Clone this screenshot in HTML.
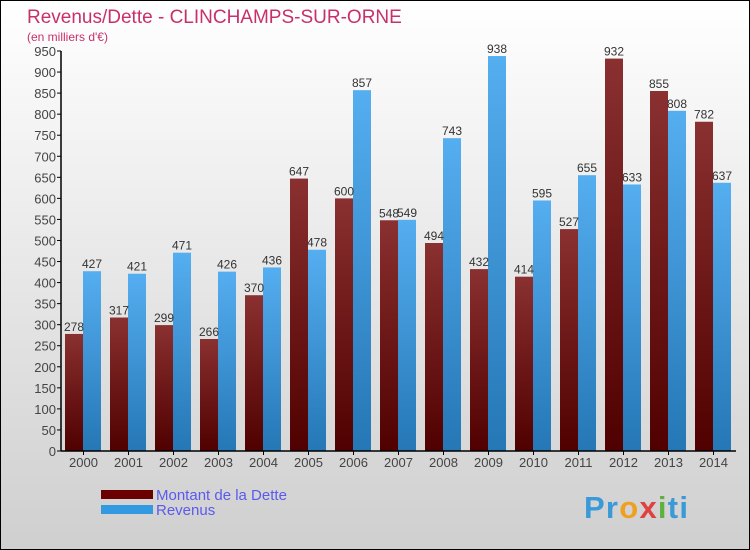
<!DOCTYPE html>
<html><head><meta charset="utf-8"><style>
body{margin:0;}
#c{width:750px;height:550px;position:relative;overflow:hidden;border:1px solid #000;box-sizing:border-box;background:linear-gradient(#ffffff,#cfcfcf);font-family:"Liberation Sans",sans-serif;}
</style></head><body>
<div id="c">
<svg id="s" width="750" height="550" style="position:absolute;left:0;top:0" font-family="Liberation Sans, sans-serif">
<defs>
<linearGradient id="gd" x1="0" y1="0" x2="0" y2="1"><stop offset="0" stop-color="#8a3030"/><stop offset="1" stop-color="#500000"/></linearGradient>
<linearGradient id="gr" x1="0" y1="0" x2="0" y2="1"><stop offset="0" stop-color="#55aef0"/><stop offset="1" stop-color="#2577b5"/></linearGradient>
</defs>
<text x="26" y="22" font-size="19" fill="#c8306a">Revenus/Dette - CLINCHAMPS-SUR-ORNE</text>
<text x="26" y="40" font-size="12" fill="#c8306a">(en milliers d'€)</text>
<g id="plot"></g>
<rect x="100" y="489" width="52" height="9" fill="#6b0000"/>
<rect x="100" y="504" width="52" height="9" fill="#3399e0"/>
<text x="155" y="499" font-size="15" fill="#5a5af0">Montant de la Dette</text>
<text x="155" y="514" font-size="15" fill="#5a5af0">Revenus</text>
<text x="583" y="517" font-size="31" font-weight="bold" fill="#3a9ad8" textLength="104">Pr<tspan fill="#f0a020">o</tspan><tspan fill="#e04040">x</tspan><tspan fill="#60b040">i</tspan>ti</text>
</svg>
</div>
<script>
const years=["2000","2001","2002","2003","2004","2005","2006","2007","2008","2009","2010","2011","2012","2013","2014"];
const dette=[278,317,299,266,370,647,600,548,494,432,414,527,932,855,782];
const revenus=[427,421,471,426,436,478,857,549,743,938,595,655,633,808,637];
const yTicks=[0,50,100,150,200,250,300,350,400,450,500,550,600,650,700,750,800,850,900,950];
const NS="http://www.w3.org/2000/svg";
const g=document.getElementById('plot');
const x0=60,y0=450,ymax=950,h=400,step=45;
function y(v){return y0-v/ymax*h;}
function el(t,a,txt){const e=document.createElementNS(NS,t);for(const k in a)e.setAttribute(k,a[k]);if(txt!=null)e.textContent=txt;g.appendChild(e);return e;}
yTicks.forEach(v=>{
 const l=el('line',{x1:x0-4,x2:x0,y1:y(v),y2:y(v),stroke:'#000'});
 
 
 const t=el('text',{x:x0-5,y:y(v)+5,'font-size':13,'text-anchor':'end',fill:'#444'},v);
 
 
});
years.forEach((yr,i)=>{
 const gx=x0+i*step;
 const bd=el('rect',{x:gx+4,y:y(dette[i]),width:18,height:y0-y(dette[i]),fill:'url(#gd)'});
 
 
 const br=el('rect',{x:gx+22,y:y(revenus[i]),width:18,height:y0-y(revenus[i]),fill:'url(#gr)'});
 
 
 const ld=el('text',{x:gx+13,y:y(dette[i])-3,'font-size':12,'text-anchor':'middle',fill:'#333'},dette[i]);
 
 
 const lr=el('text',{x:gx+31,y:y(revenus[i])-3,'font-size':12,'text-anchor':'middle',fill:'#333'},revenus[i]);
 
 
 const tk=el('line',{x1:gx+22.5,x2:gx+22.5,y1:y0,y2:y0+4,stroke:'#000'});
 
 
 const xl=el('text',{x:gx+22.5,y:y0+16,'font-size':13,'text-anchor':'middle',fill:'#444'},yr);
 
 
});
const ya=el('line',{x1:x0,x2:x0,y1:y(ymax),y2:y0,stroke:'#000','stroke-width':1.5});


const xa=el('line',{x1:x0,x2:x0+years.length*step,y1:y0,y2:y0,stroke:'#000','stroke-width':1.5});


</script>
</body></html>
